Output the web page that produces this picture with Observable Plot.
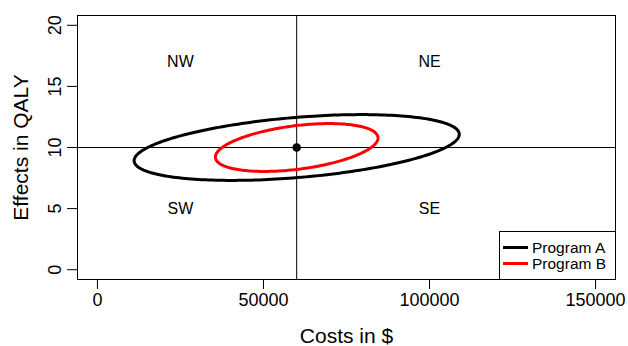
<!DOCTYPE html>
<html>
<head>
<meta charset="utf-8">
<script src="https://cdn.jsdelivr.net/npm/d3@7"></script>
<script src="https://cdn.jsdelivr.net/npm/@observablehq/plot@0.6"></script>
<style>
  html, body { margin: 0; padding: 0; background: #fff; }
  #chart svg { display: block; }
</style>
</head>
<body>
<div id="chart"></div>
<script>
// Cost-effectiveness plane: 95% confidence ellipses for two programs
const programs = ["Program A", "Program B"];
const programColors = ["#000000", "#ff0000"];
const meanCost = [60000, 60000];
const meanEffect = [10, 10];
const sdCost = [20000, 10000];
const sdEffect = [1.1, 0.8];
const correlation = [0.4, 0.4];
const confidenceLevel = 0.95;

const centreCost = [60000];
const centreEffect = [10];

const quadrantNames = ["NW", "NE", "SW", "SE"];
const quadrantCost = [25000, 100000, 25000, 100000];
const quadrantEffect = [17, 17, 5, 5];

const costTicks = [0, 50000, 100000, 150000];
const effectTicks = [0, 5, 10, 15, 20];

const FONT = "'Liberation Sans', Arial, Helvetica, sans-serif";

// Ellipse outline of a bivariate normal at the given confidence level (2 df)
function ellipseOutline(i, n = 240) {
  const r = Math.sqrt(-2 * Math.log(1 - confidenceLevel));
  const d = Math.acos(correlation[i]);
  return d3.range(n + 1).map(k => {
    const t = (2 * Math.PI * k) / n;
    return {
      program: programs[i],
      cost: meanCost[i] + sdCost[i] * r * Math.cos(t + d / 2),
      effect: meanEffect[i] + sdEffect[i] * r * Math.cos(t - d / 2)
    };
  });
}
const outlines = programs.flatMap((_, i) => ellipseOutline(i));
const quadrants = quadrantNames.map((name, i) => ({name, cost: quadrantCost[i], effect: quadrantEffect[i]}));

const chart = Plot.plot({
  width: 628,
  height: 346,
  marginLeft: 77,
  marginRight: 13,
  marginTop: 15,
  marginBottom: 67,
  style: {fontFamily: FONT, color: "black", background: "white"},
  x: {domain: [-6000, 156000], axis: null},
  y: {domain: [-0.8, 20.8], axis: null},
  color: {domain: programs, range: programColors},
  marks: [
    Plot.frame({stroke: "black", strokeWidth: 1}),
    Plot.ruleX(centreCost, {stroke: "black", strokeWidth: 1}),
    Plot.ruleY(centreEffect, {stroke: "black", strokeWidth: 1}),
    Plot.line(outlines, {x: "cost", y: "effect", z: "program", stroke: "program", strokeWidth: 3, curve: "linear"}),
    Plot.dot(centreCost.map((c, i) => ({cost: c, effect: centreEffect[i]})), {x: "cost", y: "effect", r: 4.3, fill: "black", stroke: null}),
    Plot.text(quadrants, {x: "cost", y: "effect", text: "name", fontSize: 16, fill: "black"}),
    // x axis: ticks and labels
    Plot.axisX(costTicks, {anchor: "bottom", tickSize: 10, tickPadding: 4, tickFormat: d => String(d), fontSize: 18, label: null, stroke: "black"}),
    // y axis: ticks, then labels rotated to read bottom-to-top
    Plot.axisY(effectTicks, {anchor: "left", tickSize: 10, tickFormat: () => "", label: null, stroke: "black"}),
    Plot.text(effectTicks, {y: d => d, text: d => String(d), frameAnchor: "left", dx: -17, rotate: -90, textAnchor: "middle", lineAnchor: "bottom", fontSize: 18, fill: "black"}),
    Plot.text(["Costs in $"], {frameAnchor: "bottom", dy: 63, textAnchor: "middle", lineAnchor: "bottom", fontSize: 21, fill: "black"}),
    Plot.text(["Effects in QALY"], {frameAnchor: "left", dx: -50, rotate: -90, textAnchor: "middle", lineAnchor: "bottom", fontSize: 21, fill: "black"})
  ]
});

// Legend box in the lower-right corner of the plotting frame
const xr = chart.scale("x").range;
const yr = chart.scale("y").range;
const svg = d3.select(chart);
const boxW = 116, boxH = 48, rowH = 16;
const bx = xr[1] - boxW, by = yr[0] - boxH;
const legend = svg.append("g")
  .attr("font-family", FONT)
  .attr("font-size", 15.5)
  .attr("text-anchor", "start");
legend.append("rect")
  .attr("x", bx + 0.5).attr("y", by + 0.5)
  .attr("width", boxW).attr("height", boxH)
  .attr("fill", "white").attr("stroke", "black");
programs.forEach((p, i) => {
  const cy = by + 16.5 + i * rowH;
  legend.append("line")
    .attr("x1", bx + 4).attr("x2", bx + 29)
    .attr("y1", cy).attr("y2", cy)
    .attr("stroke", programColors[i]).attr("stroke-width", 3);
  legend.append("text")
    .attr("x", bx + 33).attr("y", cy).attr("dy", "0.35em")
    .attr("fill", "black").text(p);
});

document.getElementById("chart").appendChild(chart);
</script>
</body>
</html>
